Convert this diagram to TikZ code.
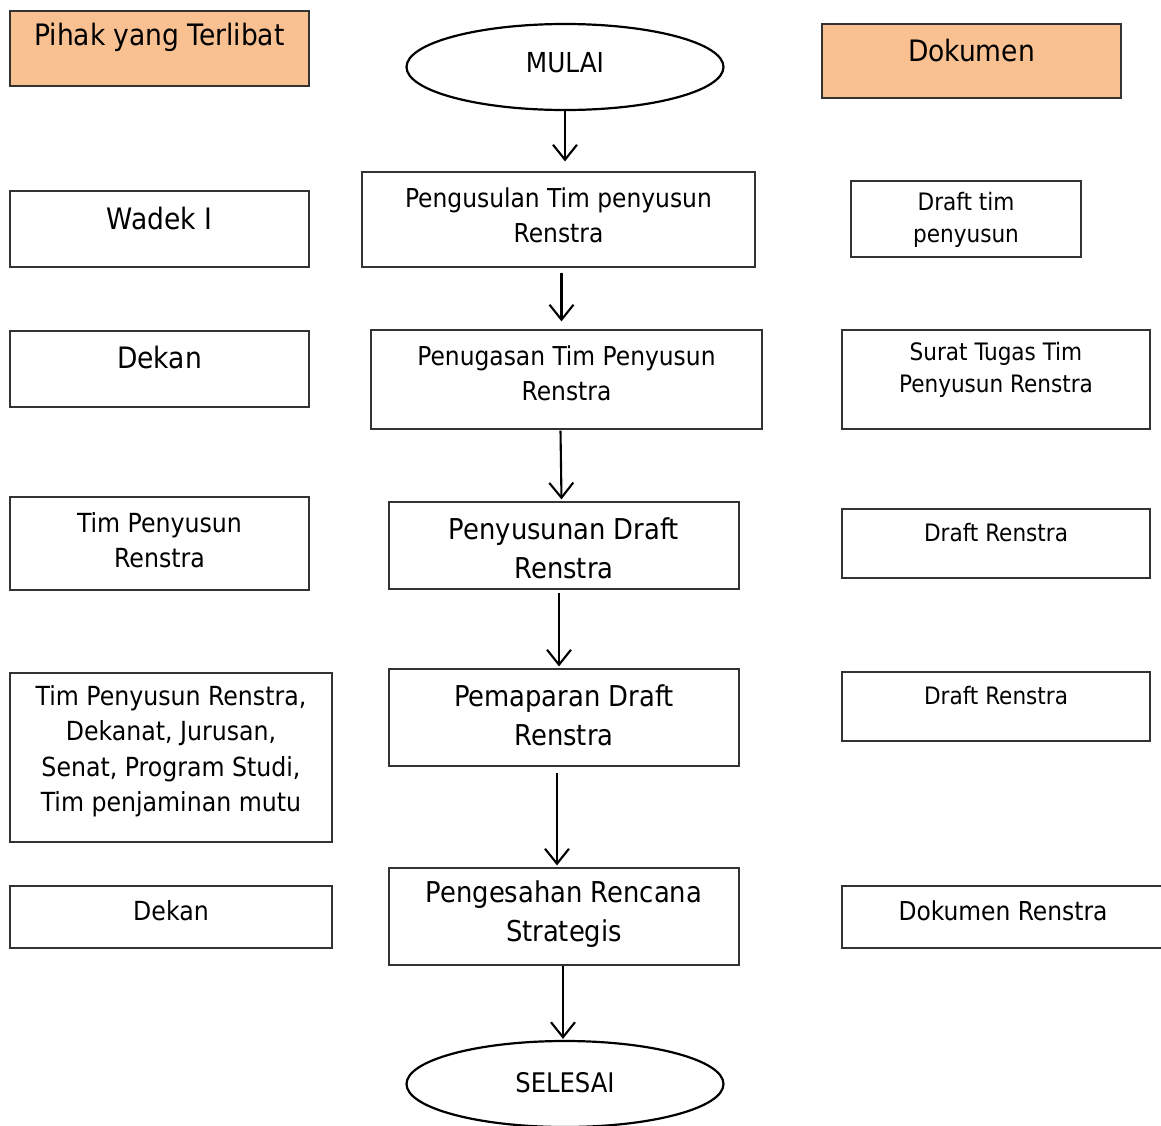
\documentclass[tikz,border=0pt]{standalone}
\usepackage{fontspec}
\setmainfont{DejaVu Sans Condensed}
\usetikzlibrary{shapes.geometric,arrows.meta,calc}
\definecolor{headfill}{HTML}{F9C192}
\definecolor{framegray}{HTML}{333333}
\begin{document}
\begin{tikzpicture}[x=1bp,y=-1bp,
  box/.style={draw=framegray,line width=1.2bp,rectangle,inner sep=0pt},
  headbox/.style={box,fill=headfill},
  term/.style={draw=black,line width=2.2bp,ellipse,inner sep=0pt,minimum width=317bp,minimum height=86bp},
  txt/.style={align=center,inner sep=0pt},
  hd/.style={txt,font=\fontsize{29.5bp}{34bp}\selectfont},
  mainA/.style={txt,font=\fontsize{26bp}{35bp}\selectfont},
  mainB/.style={txt,font=\fontsize{28.7bp}{39bp}\selectfont},
  leftt/.style={txt,font=\fontsize{26.3bp}{35.5bp}\selectfont},
  rightt/.style={txt,font=\fontsize{24bp}{32bp}\selectfont},
  arr/.style={draw=black,line width=2.1bp,-{Straight Barb[length=15bp,width=24bp]}}]
\useasboundingbox (0,0) rectangle (1161,1126);

% left column: parties involved
\node[headbox,minimum width=299bp,minimum height=75bp] (hkiri) at (159.5,48.5) {};
\node[hd] (hkiri-t) at (159.5,37) {Pihak yang Terlibat};
\node[box,minimum width=299bp,minimum height=76bp] (l1) at (159.5,229) {};
\node[hd] (l1-t) at (159.5,218) {Wadek I};
\node[box,minimum width=299bp,minimum height=76bp] (l2) at (159.5,369) {};
\node[hd] (l2-t) at (159.5,357) {Dekan};
\node[box,minimum width=299bp,minimum height=93bp] (l3) at (159.5,543.5) {};
\node[leftt] (l3-t) at (159.5,540) {Tim Penyusun\\Renstra};
\node[box,minimum width=322bp,minimum height=169bp] (l4) at (171,757.5) {};
\node[leftt] (l4-t) at (171,751) {Tim Penyusun Renstra,\\Dekanat, Jurusan,\\Senat, Program Studi,\\Tim penjaminan mutu};
\node[box,minimum width=322bp,minimum height=62bp] (l5) at (171,917) {};
\node[leftt] (l5-t) at (171,911) {Dekan};

% centre column: process flow
\node[term] (mulai) at (565,67) {};
\node[txt,font=\fontsize{27.5bp}{32bp}\selectfont] (mulai-t) at (565,63) {MULAI};
\node[box,minimum width=393bp,minimum height=95bp] (p1) at (558.5,219.5) {};
\node[mainA] (p1-t) at (558.5,215) {Pengusulan Tim penyusun\\Renstra};
\node[box,minimum width=391bp,minimum height=99bp] (p2) at (566.5,379.5) {};
\node[mainA] (p2-t) at (566.5,373.5) {Penugasan Tim Penyusun\\Renstra};
\node[box,minimum width=350bp,minimum height=87bp] (p3) at (564,545.5) {};
\node[mainB] (p3-t) at (564,548.5) {Penyusunan Draft\\Renstra};
\node[box,minimum width=350bp,minimum height=97bp] (p4) at (564,717.5) {};
\node[mainB] (p4-t) at (564,715.5) {Pemaparan Draft\\Renstra};
\node[box,minimum width=350bp,minimum height=97bp] (p5) at (564,916.5) {};
\node[mainB] (p5-t) at (564,914.5) {Pengesahan Rencana\\Strategis};
\node[term] (selesai) at (565,1084) {};
\node[txt,font=\fontsize{27bp}{32bp}\selectfont] (selesai-t) at (565,1083) {SELESAI};

% right column: documents
\node[headbox,minimum width=299bp,minimum height=74bp] (hkanan) at (971.5,61) {};
\node[hd] (hkanan-t) at (971.5,50) {Dokumen};
\node[box,minimum width=230bp,minimum height=76bp] (r1) at (966,219) {};
\node[rightt] (r1-t) at (966,220) {Draft tim\\penyusun};
\node[box,minimum width=308bp,minimum height=99bp] (r2) at (996,379.5) {};
\node[rightt] (r2-t) at (996,370) {Surat Tugas Tim\\Penyusun Renstra};
\node[box,minimum width=308bp,minimum height=69bp] (r3) at (996,543.5) {};
\node[rightt] (r3-t) at (996,533) {Draft Renstra};
\node[box,minimum width=308bp,minimum height=69bp] (r4) at (996,706.5) {};
\node[rightt] (r4-t) at (996,696) {Draft Renstra};
\node[box,minimum width=323bp,minimum height=62bp] (r5) at (1003.5,917) {};
\node[txt,font=\fontsize{26bp}{30bp}\selectfont] (r5-t) at (1003,911) {Dokumen Renstra};

% flow connectors
\draw[arr] (mulai.south) -- ($(mulai.south |- p1.north)+(0,-10)$);
\draw[arr] ($(p1.south)+(3,5)$) -- ($(p1.south |- p2.north)+(3,-8)$);
\draw[arr] ($(p2.south)+(-6,1)$) -- ($(p2.south |- p3.north)+(-5,-2)$);
\draw[arr] ($(p3.south)+(-5,3)$) -- ($(p3.south |- p4.north)+(-5,-2)$);
\draw[arr] ($(p4.south)+(-7,6)$) -- ($(p4.south |- p5.north)+(-7,-2)$);
\draw[arr] ($(p5.south)+(-1,0)$) -- ($(p5.south |- selesai.north)+(-1,-1)$);
\end{tikzpicture}
\end{document}
